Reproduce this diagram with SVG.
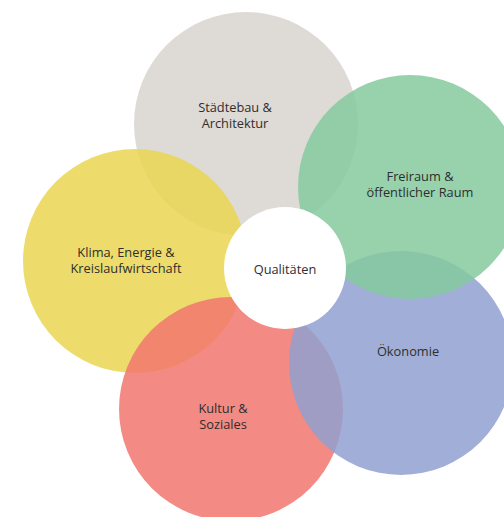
<svg xmlns="http://www.w3.org/2000/svg" width="504" height="517" viewBox="0 0 504 517">
<style>
.c{fill-opacity:0.85}
text{font-family:"Open Sans","Noto Sans","DejaVu Sans",sans-serif;font-size:12.8px;fill:#2e2e2e;text-anchor:middle}
</style>
<rect width="504" height="517" fill="#ffffff"/>
<g id="staedtebau"><circle class="c" cx="246" cy="124" r="112" fill="#D8D4CE"/><text x="235" y="111.5">Städtebau &amp;</text><text x="235" y="128">Architektur</text></g>
<g id="klima"><circle class="c" cx="135" cy="261" r="112" fill="#EAD651"/><text x="126" y="256.5">Klima, Energie &amp;</text><text x="126" y="273">Kreislaufwirtschaft</text></g>
<g id="kultur"><circle class="c" cx="231" cy="409" r="112" fill="#F1756D"/><text x="223" y="412.5">Kultur &amp;</text><text x="223" y="429">Soziales</text></g>
<g id="oekonomie"><circle class="c" cx="401" cy="363" r="112" fill="#90A0D0"/><text x="408" y="356">Ökonomie</text></g>
<g id="freiraum"><circle class="c" cx="410" cy="187" r="112" fill="#85CA9F"/><text x="420" y="180.5">Freiraum &amp;</text><text x="420" y="197">öffentlicher Raum</text></g>
<g id="qualitaeten"><circle cx="285" cy="268" r="61" fill="#ffffff"/><text x="285" y="274">Qualitäten</text></g>
<g id="connectors"></g>
</svg>
